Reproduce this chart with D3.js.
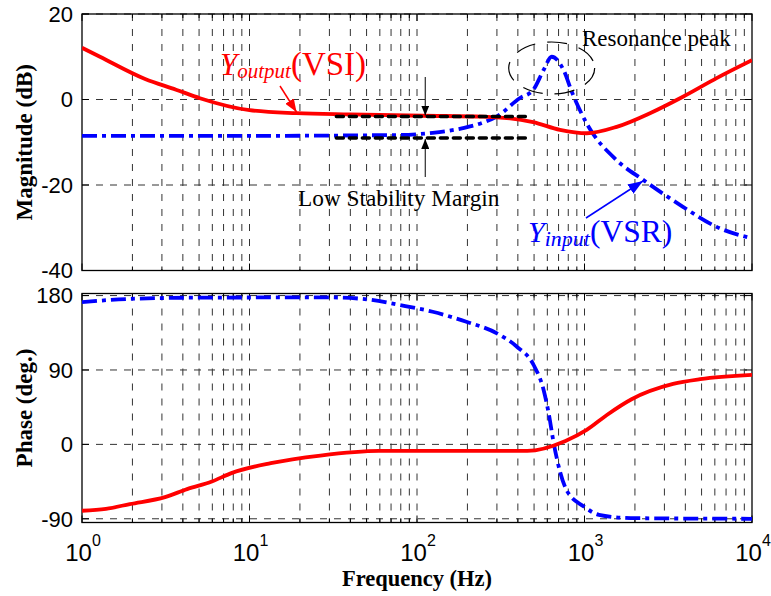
<!DOCTYPE html>
<html>
<head>
<meta charset="utf-8">
<script src="https://cdn.jsdelivr.net/npm/d3@7"></script>
<style>
  body { margin: 0; background: #fff; }
  svg { display: block; }
</style>
</head>
<body>
<script>
// Output admittance of the VSI (magnitude, dB)
const vsiMagFreq = [1, 1.28, 2.38, 3.64, 5.06, 10, 19.1, 40, 108, 248, 493, 714, 1030, 1556, 2460, 3870, 6150, 10000];
const vsiMagDb   = [12.1, 10.0, 4.8, 2.3, 0.3, -2.5, -3.2, -3.5, -3.8, -4.0, -5.3, -7.1, -7.9, -6.4, -3.2, 0.65, 5.0, 9.2];

// Input admittance of the VSR (magnitude, dB)
const vsrMagFreq = [1, 10, 79, 124, 188, 248, 299, 410, 493, 570, 637, 750, 840, 1030, 1556, 2240, 3870, 6150, 10000];
const vsrMagDb   = [-8.5, -8.5, -8.3, -7.8, -6.7, -5.4, -4.0, 0.3, 2.2, 6.9, 10.0, 6.9, 1.8, -5.6, -14.2, -18.8, -25.1, -29.8, -32.5];

// Phase of the VSI output admittance (deg)
const vsiPhFreq = [1, 1.39, 1.93, 3.13, 4.24, 5.96, 7.8, 13.4, 26.5, 59.3, 455, 770, 1030, 1360, 1910, 3380, 4900, 10000];
const vsiPhDeg  = [-80.3, -77.9, -72.2, -63.8, -54.1, -44.9, -34.8, -22.7, -13.5, -7.9, -7.9, 4.2, 17.5, 35.6, 54.6, 73.1, 78.8, 84];

// Phase of the VSR input admittance (deg)
const vsrPhFreq = [1, 1.93, 5, 30, 50, 79, 124, 197, 300, 395, 497, 570, 611, 655, 780, 990, 1220, 1890, 10000];
const vsrPhDeg  = [172, 176, 177.5, 177.8, 175.5, 168.5, 160.4, 148.3, 134.3, 118.1, 96, 65.8, 37.7, 1.4, -55, -75.1, -85.2, -89.2, -90];

// Axis ticks
const magTicks = [20, 0, -20, -40];
const phaseTicks = [180, 90, 0, -90];
const freqDecades = [0, 1, 2, 3, 4];

// Stability-margin reference levels (dB) and their frequency span (Hz)
const marginLevels = [-4.0, -9.0];
const marginSpan = [33, 480];

const W = 771, H = 596;
const svg = d3.select("body").append("svg").attr("width", W).attr("height", H);

const x = d3.scaleLog().domain([1, 1e4]).range([82, 752]);
const yMag = d3.scaleLinear().domain([-40, 20]).range([270.5, 14]);
const yPh = d3.scaleLinear().domain([-94.5, 182.5]).range([522.5, 293.5]);

const serif = "'Liberation Serif', 'Times New Roman', serif";
const sans = "'Liberation Sans', Arial, Helvetica, sans-serif";
const red = "#ff0000", blue = "#0000ff";

const defs = svg.append("defs");
function arrowMarker(id, color, len, wid) {
  defs.append("marker")
    .attr("id", id).attr("viewBox", `0 0 ${len} ${wid}`)
    .attr("refX", len).attr("refY", wid / 2)
    .attr("markerWidth", len).attr("markerHeight", wid)
    .attr("markerUnits", "userSpaceOnUse").attr("orient", "auto")
    .append("path").attr("d", `M0,0L${len},${wid / 2}L0,${wid}Z`).attr("fill", color);
}
arrowMarker("arrBlack", "#000", 10, 8);
arrowMarker("arrRed", red, 13, 10);
arrowMarker("arrBlue", blue, 15, 11);

const allFreqTicks = x.ticks();   // 1,2,...,9,10,20,...,10000

function panel(y, ticks, id) {
  const [r0, r1] = y.range();
  const top = Math.min(r0, r1), bottom = Math.max(r0, r1);
  const left = x.range()[0], right = x.range()[1];
  const g = svg.append("g");

  defs.append("clipPath").attr("id", id)
    .append("rect").attr("x", left).attr("y", top).attr("width", right - left).attr("height", bottom - top);

  // vertical log grid
  g.selectAll(".vg").data(allFreqTicks.filter(f => f > 1 && f < 1e4)).join("line")
    .attr("x1", d => x(d)).attr("x2", d => x(d))
    .attr("y1", top).attr("y2", bottom)
    .attr("stroke", "#333").attr("stroke-width", 1).attr("stroke-dasharray", "7,8");
  // horizontal grid
  g.selectAll(".hg").data(ticks).join("line")
    .attr("x1", left).attr("x2", right)
    .attr("y1", d => y(d)).attr("y2", d => y(d))
    .attr("stroke", "#333").attr("stroke-width", 1).attr("stroke-dasharray", "7,7");

  // inward ticks
  const tickG = g.append("g").attr("stroke", "#000").attr("stroke-width", 1);
  allFreqTicks.forEach(f => {
    const major = Math.abs(Math.log10(f) - Math.round(Math.log10(f))) < 1e-9;
    const len = major ? 7 : 4;
    tickG.append("line").attr("x1", x(f)).attr("x2", x(f)).attr("y1", bottom).attr("y2", bottom - len);
    tickG.append("line").attr("x1", x(f)).attr("x2", x(f)).attr("y1", top).attr("y2", top + len);
  });
  ticks.forEach(t => {
    tickG.append("line").attr("x1", left).attr("x2", left + 7).attr("y1", y(t)).attr("y2", y(t));
    tickG.append("line").attr("x1", right).attr("x2", right - 7).attr("y1", y(t)).attr("y2", y(t));
  });

  // frame
  g.append("rect").attr("x", left).attr("y", top).attr("width", right - left).attr("height", bottom - top)
    .attr("fill", "none").attr("stroke", "#000").attr("stroke-width", 1.3);

  // y tick labels
  g.selectAll(".yl").data(ticks).join("text")
    .attr("x", left - 9).attr("y", d => y(d)).attr("dy", "0.36em")
    .attr("text-anchor", "end").attr("font-family", sans).attr("font-size", 22)
    .text(d => d);

  return g.append("g").attr("clip-path", `url(#${id})`);
}

const magPlot = panel(yMag, magTicks, "clipMag");
const phPlot = panel(yPh, phaseTicks, "clipPh");

function drawSeries(plot, y, fr, vals, color, dash) {
  const line = d3.line().x(d => x(d[0])).y(d => y(d[1])).curve(d3.curveMonotoneX);
  const p = plot.append("path").datum(fr.map((f, i) => [f, vals[i]]))
    .attr("d", line).attr("fill", "none").attr("stroke", color)
    .attr("stroke-width", 3.8).attr("stroke-linejoin", "round");
  if (dash) p.attr("stroke-dasharray", dash);
  return p;
}

// magnitude curves
drawSeries(magPlot, yMag, vsrMagFreq, vsrMagDb, blue, "15,5,4,5");
drawSeries(magPlot, yMag, vsiMagFreq, vsiMagDb, red, null);

// stability-margin levels
magPlot.selectAll(".ml").data(marginLevels).join("line")
  .attr("x1", x(marginSpan[0])).attr("x2", x(marginSpan[1]))
  .attr("y1", d => yMag(d)).attr("y2", d => yMag(d))
  .attr("stroke", "#000").attr("stroke-width", 3.5)
  .attr("stroke-dasharray", "7,6").attr("stroke-linecap", "round");

// phase curves
drawSeries(phPlot, yPh, vsrPhFreq, vsrPhDeg, blue, "15,5,4,5");
drawSeries(phPlot, yPh, vsiPhFreq, vsiPhDeg, red, null);

// margin arrows
const arrowX = x(112);
svg.append("line").attr("x1", arrowX).attr("x2", arrowX)
  .attr("y1", 77).attr("y2", yMag(marginLevels[0]) - 1)
  .attr("stroke", "#000").attr("stroke-width", 1).attr("marker-end", "url(#arrBlack)");
svg.append("line").attr("x1", arrowX).attr("x2", arrowX)
  .attr("y1", 177).attr("y2", yMag(marginLevels[1]) + 1)
  .attr("stroke", "#000").attr("stroke-width", 1).attr("marker-end", "url(#arrBlack)");

// resonance ellipse
svg.append("ellipse").attr("cx", x(637)).attr("cy", 68).attr("rx", 43).attr("ry", 26)
  .attr("fill", "none").attr("stroke", "#000").attr("stroke-width", 1.2)
  .attr("stroke-dasharray", "20,12");

// annotation texts
svg.append("text").attr("x", 582).attr("y", 46)
  .attr("font-family", serif).attr("font-size", 23).text("Resonance peak");
svg.append("text").attr("x", 298).attr("y", 205.5)
  .attr("font-family", serif).attr("font-size", 23.3).text("Low Stability Margin");

const vsiLabel = svg.append("text").attr("x", 220).attr("y", 75)
  .attr("font-family", serif).attr("fill", red);
vsiLabel.append("tspan").attr("font-style", "italic").attr("font-size", 31).text("Y");
vsiLabel.append("tspan").attr("font-style", "italic").attr("font-size", 21).attr("dy", 3).text("output");
vsiLabel.append("tspan").attr("font-size", 33).attr("dy", -3).text("(VSI)");

const vsrLabel = svg.append("text").attr("x", 528).attr("y", 242)
  .attr("font-family", serif).attr("fill", blue);
vsrLabel.append("tspan").attr("font-style", "italic").attr("font-size", 30).text("Y");
vsrLabel.append("tspan").attr("font-style", "italic").attr("font-size", 22).attr("dy", 4).text("input");
vsrLabel.append("tspan").attr("font-size", 31.5).attr("dy", -4).text("(VSR)");

// label pointers
svg.append("line").attr("x1", 280).attr("y1", 86).attr("x2", 296.5).attr("y2", 112)
  .attr("stroke", red).attr("stroke-width", 1.5).attr("marker-end", "url(#arrRed)");
svg.append("line").attr("x1", 586).attr("y1", 218).attr("x2", 643).attr("y2", 181)
  .attr("stroke", blue).attr("stroke-width", 1.5).attr("marker-end", "url(#arrBlue)");

// x tick labels: 10^n
const xl = svg.append("g").attr("font-family", sans);
freqDecades.forEach(n => {
  const t = xl.append("text").attr("x", x(Math.pow(10, n)) + 1).attr("y", 560.5)
    .attr("text-anchor", "middle").attr("font-size", 24);
  t.append("tspan").text("10");
  t.append("tspan").attr("font-size", 16).attr("dy", -15).text(n);
});

// axis titles
svg.append("text").attr("transform", `translate(32,${(yMag.range()[0] + yMag.range()[1]) / 2}) rotate(-90)`)
  .attr("text-anchor", "middle").attr("font-family", serif).attr("font-weight", "bold")
  .attr("font-size", 23).text("Magnitude (dB)");
svg.append("text").attr("transform", `translate(32,${(yPh.range()[0] + yPh.range()[1]) / 2}) rotate(-90)`)
  .attr("text-anchor", "middle").attr("font-family", serif).attr("font-weight", "bold")
  .attr("font-size", 23).text("Phase (deg.)");
svg.append("text").attr("x", 417).attr("y", 585.5)
  .attr("text-anchor", "middle").attr("font-family", serif).attr("font-weight", "bold")
  .attr("font-size", 22.5).text("Frequency (Hz)");
</script>
</body>
</html>
